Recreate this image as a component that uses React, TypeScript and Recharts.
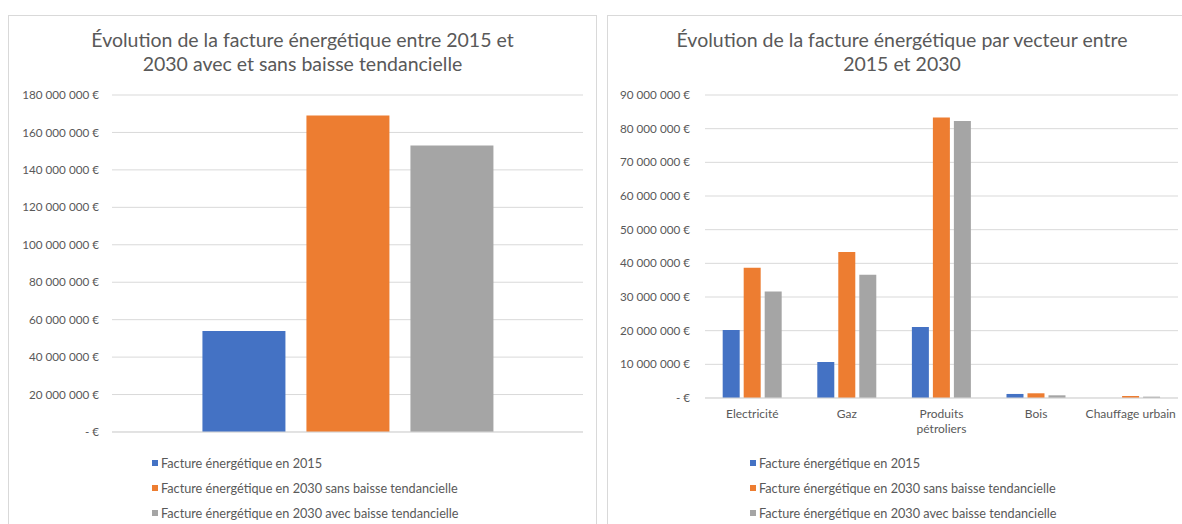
import React from "react";
import {
  BarChart, Bar, XAxis, YAxis, CartesianGrid,
} from "recharts";

// ─── Data ───────────────────────────────────────────────────
const SERIES_NAMES = [
  "Facture énergétique en 2015",
  "Facture énergétique en 2030 sans baisse tendancielle",
  "Facture énergétique en 2030 avec baisse tendancielle",
];
const SERIES_COLORS = ["#4472C4", "#ED7D31", "#A5A5A5"];

// total bill, single category
const TOTAL_CATEGORIES = [""];
const TOTAL_2015 = [54000000];
const TOTAL_2030_SANS = [169000000];
const TOTAL_2030_AVEC = [153000000];
const TOTAL_TICKS = [0, 20000000, 40000000, 60000000, 80000000, 100000000, 120000000, 140000000, 160000000, 180000000];

// bill per energy carrier
const VECTEURS = ["Electricité", "Gaz", "Produits pétroliers", "Bois", "Chauffage urbain"];
const VECT_2015 = [20200000, 10700000, 21100000, 1200000, 0];
const VECT_2030_SANS = [38700000, 43400000, 83300000, 1400000, 600000];
const VECT_2030_AVEC = [31600000, 36600000, 82300000, 800000, 400000];
const VECT_TICKS = [0, 10000000, 20000000, 30000000, 40000000, 50000000, 60000000, 70000000, 80000000, 90000000];

const FONT = "Lato, 'Open Sans', sans-serif";
const TEXT = "#595959";
const GRID = "#d9d9d9";

function buildRows(cats: string[], a: number[], b: number[], c: number[]) {
  return cats.map((name, i) => ({ name, s0: a[i], s1: b[i], s2: c[i] }));
}

const totalRows = buildRows(TOTAL_CATEGORIES, TOTAL_2015, TOTAL_2030_SANS, TOTAL_2030_AVEC);
const vectRows = buildRows(VECTEURS, VECT_2015, VECT_2030_SANS, VECT_2030_AVEC);

// Excel-like accounting format: "180 000 000 €", zero shown as "- €"
function euro(v: number) {
  if (v === 0) return "- €";
  return String(v).replace(/\B(?=(\d{3})+(?!\d))/g, " ") + " €";
}

// wraps category names at ~16 chars
function CategoryTick({ x, y, payload }: any) {
  const words = String(payload.value).split(" ");
  const lines: string[] = [];
  let cur = "";
  words.forEach((w) => {
    const next = cur ? cur + " " + w : w;
    if (next.length > 16 && cur) {
      lines.push(cur);
      cur = w;
    } else cur = next;
  });
  if (cur) lines.push(cur);
  return (
    <text x={x} y={y} textAnchor="middle" fill={TEXT} fontSize={12} fontFamily={FONT}>
      {lines.map((l, i) => (
        <tspan key={i} x={x} dy={i === 0 ? 17 : 15}>{l}</tspan>
      ))}
    </text>
  );
}

// series legend, stacked in a column under the plot
function LegendBox({ left }: { left: number }) {
  return (
    <div style={{ position: "absolute", left, top: 434, fontFamily: FONT, fontSize: 12.7, color: TEXT }}>
      {SERIES_NAMES.map((n, i) => (
        <div key={n} style={{ display: "flex", alignItems: "center", height: 25, whiteSpace: "nowrap" }}>
          <span style={{ width: 6, height: 6, background: SERIES_COLORS[i], marginRight: 3, display: "inline-block" }} />
          {n}
        </div>
      ))}
    </div>
  );
}

function Title({ lines }: { lines: string[] }) {
  return (
    <div
      style={{
        position: "absolute", left: 0, right: 0, top: 12,
        textAlign: "center", fontFamily: FONT, fontSize: 19.5, lineHeight: "24px", color: TEXT,
      }}
    >
      {lines.map((l) => <div key={l}>{l}</div>)}
    </div>
  );
}

const boxStyle: React.CSSProperties = {
  position: "absolute", top: 15, width: 589, height: 520,
  border: `1px solid ${GRID}`, background: "#fff", boxSizing: "border-box",
};

const yTick = { fill: TEXT, fontSize: 11.7, fontFamily: FONT };

function Series() {
  return SERIES_NAMES.map((n, i) => (
    <Bar key={n} dataKey={`s${i}`} name={n} fill={SERIES_COLORS[i]} isAnimationActive={false} />
  ));
}

export default function App() {
  return (
    <div style={{ position: "absolute", left: 0, top: 0, width: 1182, height: 524, overflow: "hidden", background: "#fff" }}>
      {/* total bill */}
      <div style={{ ...boxStyle, left: 8 }}>
        <Title lines={["Évolution de la facture énergétique entre 2015 et", "2030 avec et sans baisse tendancielle"]} />
        <BarChart
          width={589} height={509} data={totalRows}
          margin={{ top: 79, right: 15, bottom: 63, left: 0 }}
          barCategoryGap="19.2%" barGap={21}
        >
          <CartesianGrid vertical={false} stroke={GRID} />
          <XAxis dataKey="name" tick={false} tickLine={false} axisLine={{ stroke: GRID }} height={30} />
          <YAxis
            width={103} domain={[0, 180000000]} ticks={TOTAL_TICKS} interval={0}
            tickFormatter={euro} axisLine={false} tickLine={false} tickSize={0} tickMargin={13}
            tick={yTick}
          />
          {Series()}
        </BarChart>
        <LegendBox left={143} />
      </div>

      {/* per energy carrier */}
      <div style={{ ...boxStyle, left: 607, width: 590 }}>
        <Title lines={["Évolution de la facture énergétique par vecteur entre", "2015 et 2030"]} />
        <BarChart
          width={590} height={509} data={vectRows}
          margin={{ top: 79, right: 20, bottom: 87, left: 0 }}
          barCategoryGap="18.7%" barGap={4}
        >
          <CartesianGrid vertical={false} stroke={GRID} />
          <XAxis
            dataKey="name" interval={0} tickLine={false} axisLine={{ stroke: GRID }}
            height={40} tick={<CategoryTick />} tickSize={0} tickMargin={3}
          />
          <YAxis
            width={97} domain={[0, 90000000]} ticks={VECT_TICKS} interval={0}
            tickFormatter={euro} axisLine={false} tickLine={false} tickSize={0} tickMargin={15}
            tick={yTick}
          />
          {Series()}
        </BarChart>
        <LegendBox left={142} />
      </div>
    </div>
  );
}
